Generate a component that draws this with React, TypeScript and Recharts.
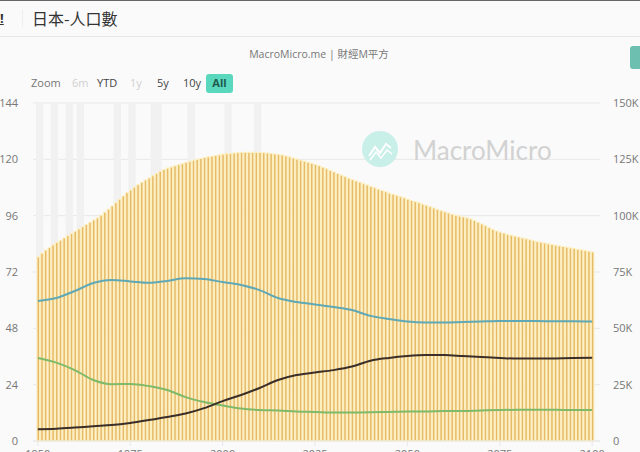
import {
  ComposedChart,
  Bar,
  Line,
  XAxis,
  YAxis,
  CartesianGrid,
  ReferenceArea,
} from "recharts";

const FIRST_YEAR = 1950;

// total population, one value per year 1950-2100 (thousands)
const total = [
  81700, 83300, 84700, 85900, 87000, 88100, 89100, 90100, 91100, 92100,
  93100, 94100, 95100, 96100, 97100, 98100, 99000, 100200, 101500, 102900,
  104300, 105800, 107300, 108800, 110200, 111400, 112600, 113700, 114800, 115800,
  116700, 117700, 118700, 119700, 120500, 121100, 121600, 122100, 122600, 123100,
  123600, 124100, 124600, 125000, 125400, 125800, 126100, 126400, 126700, 127000,
  127300, 127500, 127600, 127800, 127900, 128000, 128100, 128100, 128100, 128100,
  128000, 127900, 127800, 127600, 127400, 127200, 126900, 126500, 126100, 125600,
  125100, 124600, 124200, 123700, 123200, 122700, 122200, 121500, 120800, 120100,
  119400, 118700, 118000, 117300, 116600, 116000, 115400, 114800, 114200, 113600,
  113000, 112400, 111800, 111200, 110600, 110000, 109500, 109000, 108400, 107900,
  107300, 106700, 106200, 105700, 105100, 104600, 104000, 103400, 102800, 102200,
  101700, 101200, 100600, 100200, 99800, 99400, 99000, 98500, 97900, 97100,
  96300, 95500, 94700, 93900, 93200, 92700, 92200, 91700, 91300, 90900,
  90500, 90100, 89700, 89300, 88900, 88500, 88200, 87900, 87500, 87200,
  86900, 86600, 86300, 86000, 85700, 85400, 85100, 84800, 84500, 84200,
  83900,
];

// age groups, read every five years (millions)
const lineYears = [
  1950, 1955, 1960, 1965, 1970, 1975, 1980, 1985, 1990, 1995, 2000,
  2005, 2010, 2015, 2020, 2025, 2030, 2035, 2040, 2045, 2050,
  2055, 2060, 2065, 2070, 2075, 2080, 2085, 2090, 2095, 2100,
];
const working = [
  59.6, 60.9, 63.9, 67.3, 68.6, 68, 67.4, 68.2, 69.3, 69, 67.7,
  66.5, 64.3, 60.9, 59.2, 58.2, 57.1, 55.8, 53.3, 52, 50.9,
  50.5, 50.5, 50.7, 50.9, 51.1, 51.1, 51.1, 51, 51, 50.9,
];
const young = [
  35.4, 33.4, 30.2, 26, 24.2, 24.3, 23.4, 21.7, 18.7, 16.6, 15.1,
  13.8, 13.2, 13, 12.6, 12.4, 12.1, 12.1, 12.2, 12.4, 12.6,
  12.6, 12.8, 12.8, 13, 13.2, 13.3, 13.3, 13.3, 13.2, 13.2,
];
const elderly = [
  5, 5.2, 5.7, 6.3, 6.8, 7.7, 8.9, 10.2, 11.7, 14, 17,
  19.6, 22.6, 26, 28.1, 29.2, 30.2, 31.7, 34.2, 35.4, 36.2,
  36.6, 36.6, 36.2, 35.8, 35.4, 35.1, 35.1, 35.2, 35.4, 35.5,
];

const recessions = [
  [1950, 1951], [1954, 1955], [1958, 1959], [1961, 1962], [1971, 1972],
  [1975, 1976], [1981, 1982], [1982, 1983], [1991, 1992], [2001, 2002], [2009, 2010],
];

const xTicks = [1950, 1975, 2000, 2025, 2050, 2075, 2100];
const leftTicks = [0, 24, 48, 72, 96, 120, 144];
const rightTicks = [0, 25000, 50000, 75000, 100000, 125000, 150000];

const rows = total.map((t, i) => {
  const year = FIRST_YEAR + i;
  const k = lineYears.indexOf(year);
  return k < 0
    ? { year, total: t }
    : { year, total: t, working: working[k], young: young[k], elderly: elderly[k] };
});

const uiFont = '"Open Sans", sans-serif';
const tickStyle = { fontFamily: uiFont, fontSize: 11, fill: "#777" };

const toolbar: [string, number, string][] = [
  ["Zoom", 31, "#777"],
  ["6m", 72, "#d0d0d0"],
  ["YTD", 97, "#444"],
  ["1y", 130, "#d0d0d0"],
  ["5y", 157, "#444"],
  ["10y", 183, "#444"],
];

export default function App() {
  return (
    <div
      style={{
        position: "fixed",
        left: 0,
        top: 0,
        width: 640,
        height: 452,
        overflow: "hidden",
        background: "#fafafa",
        fontFamily: uiFont,
      }}
    >
      <div style={{ position: "absolute", left: 0, top: 0, width: 640, height: 1, background: "#666" }} />
      <div style={{ position: "absolute", left: 0, top: 36, width: 640, height: 1, background: "#e6e6e6" }} />
      <div style={{ position: "absolute", left: 22, top: 10, width: 1, height: 17, background: "#eee" }} />
      <div style={{ position: "absolute", left: 0, top: 9, fontSize: 13, fontWeight: 700, color: "#333", textDecoration: "underline" }}>!</div>
      <div
        style={{
          position: "absolute",
          left: 32,
          top: 6,
          fontFamily: '"Noto Sans CJK TC", sans-serif',
          fontSize: 16,
          lineHeight: "24px",
          color: "#333",
        }}
      >
        日本-人口數
      </div>
      <div
        style={{
          position: "absolute",
          left: 0,
          width: 638,
          top: 46,
          textAlign: "center",
          fontFamily: '"Open Sans", "Noto Sans CJK TC", sans-serif',
          fontSize: 10.5,
          lineHeight: "16px",
          color: "#777",
        }}
      >
        MacroMicro.me | 財經M平方
      </div>
      <div style={{ position: "absolute", left: 630, top: 46, width: 14, height: 23, borderRadius: 3, background: "#6dbfb0" }} />

      {toolbar.map(([label, x, color]) => (
        <div key={label} style={{ position: "absolute", left: x, top: 75, fontSize: 11, lineHeight: "16px", color }}>
          {label}
        </div>
      ))}
      <div
        style={{
          position: "absolute",
          left: 206,
          top: 74,
          width: 27,
          height: 19,
          borderRadius: 3,
          background: "#5ad8bd",
          color: "#1d5a4d",
          fontSize: 11,
          fontWeight: 700,
          lineHeight: "17px",
          textAlign: "center",
        }}
      >
        All
      </div>

      <ComposedChart
        width={640}
        height={480}
        data={rows}
        barCategoryGap={0}
        margin={{ top: 103, right: 0, bottom: 0, left: 0 }}
        style={{ position: "absolute", left: 0, top: 0 }}
      >
        <CartesianGrid yAxisId="left" vertical={false} stroke="#e8e8e8" />
        {recessions.map(([from, to]) => (
          <ReferenceArea
            key={from}
            yAxisId="left"
            x1={from}
            x2={to}
            fill="#f1f1f1"
            fillOpacity={1}
            stroke="none"
          />
        ))}
        <XAxis
          dataKey="year"
          type="category"
          ticks={xTicks}
          interval={0}
          padding={{ left: 3, right: 6 }}
          height={39}
          tick={tickStyle}
          tickSize={5}
          tickMargin={4}
          stroke="#e8e8e8"
        />
        <YAxis
          yAxisId="left"
          orientation="left"
          width={33}
          domain={[0, 144]}
          ticks={leftTicks}
          interval={0}
          tick={tickStyle}
          tickSize={0}
          tickMargin={15}
          axisLine={false}
          tickLine={false}
        />
        <YAxis
          yAxisId="right"
          orientation="right"
          width={40}
          domain={[0, 150000]}
          ticks={rightTicks}
          interval={0}
          tick={tickStyle}
          tickSize={0}
          tickMargin={13}
          axisLine={false}
          tickLine={false}
          tickFormatter={(v: number) => (v === 0 ? "0" : `${v / 1000}K`)}
        />
        <Bar
          yAxisId="right"
          dataKey="total"
          barSize={2.6}
          fill="#e6bb68"
          stroke="#fdefc0"
          strokeWidth={1.1}
          isAnimationActive={false}
        />
        <Line yAxisId="left" dataKey="working" type="monotone" connectNulls dot={false} stroke="#5fa8b5" strokeWidth={2} isAnimationActive={false} />
        <Line yAxisId="left" dataKey="young" type="monotone" connectNulls dot={false} stroke="#7fba6a" strokeWidth={2} isAnimationActive={false} />
        <Line yAxisId="left" dataKey="elderly" type="monotone" connectNulls dot={false} stroke="#3a2e28" strokeWidth={2} isAnimationActive={false} />
      </ComposedChart>

      <svg width={36} height={36} style={{ position: "absolute", left: 362, top: 131 }}>
        <circle cx={18} cy={18} r={18} fill="#c9efe9" />
        <path d="M7 25 L13 16 L18 22 L24 13 L29 17" fill="none" stroke="#fff" strokeWidth={2} />
        <path d="M8 29 L14 21 L19 27 L25 19 L30 23" fill="none" stroke="#fff" strokeWidth={1.5} />
      </svg>
      <div
        style={{
          position: "absolute",
          left: 413,
          top: 132,
          fontFamily: "Lato, sans-serif",
          fontSize: 26,
          lineHeight: "36px",
          color: "#d2d2d2",
        }}
      >
        MacroMicro
      </div>
    </div>
  );
}
